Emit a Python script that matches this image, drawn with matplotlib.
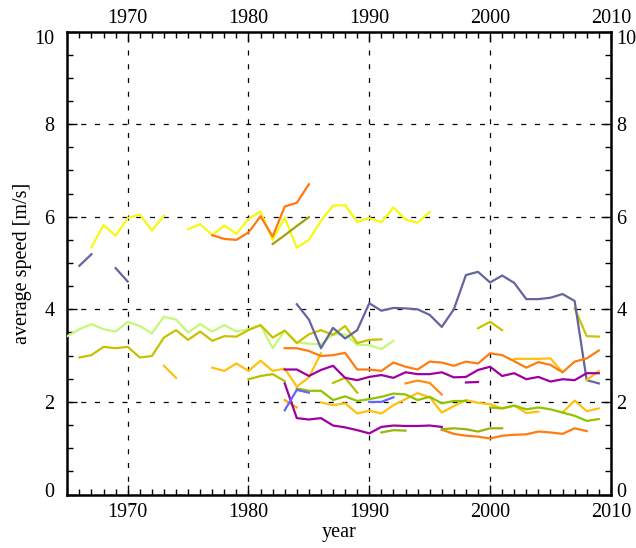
import matplotlib
matplotlib.use("Agg")
import matplotlib.pyplot as plt
from matplotlib.ticker import MultipleLocator
from matplotlib.transforms import Affine2D
import numpy as np

nan = np.nan

# each series: first year, then yearly values (nan = missing year)
yellow_start = 1967
yellow = [5.34, 5.82, 5.59, 5.97, 6.05, 5.70, 6.02, nan, 5.73, 5.84, 5.60, 5.81,
          5.63, 5.95, 6.11, 5.50, 5.98, 5.33, 5.50, 5.91, 6.24, 6.25, 5.89, 5.97,
          5.88, 6.20, 5.94, 5.87, 6.10]

orange_top_start = 1977
orange_top = [5.60, 5.52, 5.50, 5.66, 6.01, 5.57, 6.22, 6.30, 6.70]

olive_top_start = 1982
olive_top = [5.41, 5.60, 5.80, 5.99]

slate_start = 1966
slate = [4.94, 5.19, nan, 4.89, 4.60] + [nan] * 13 + [
    4.11, 3.78, 3.16, 3.60, 3.37, 3.55, 4.13, 3.97, 4.03, 4.02, 4.00, 3.88,
    3.62, 4.00, 4.74, 4.81, 4.58, 4.73, 4.57, 4.22, 4.22, 4.25, 4.33, 4.18,
    2.47, 2.40]

light_green_start = 1965
light_green = [3.42, 3.57, 3.68, 3.57, 3.52, 3.73, 3.64, 3.48, 3.84, 3.78, 3.50,
               3.68, 3.52, 3.66, 3.52, 3.57, 3.66, 3.16, 3.54, 3.29, 3.26, 3.24,
               3.46, 3.46, 3.23, 3.23, 3.14, 3.32]

mustard_start = 1966
mustard = [2.96, 3.01, 3.19, 3.16, 3.19, 2.96, 2.99, 3.39, 3.55, 3.34, 3.52, 3.32,
           3.42, 3.41, 3.55, 3.66, 3.39, 3.54, 3.27, 3.46, 3.55, 3.45, 3.64, 3.27,
           3.34, 3.35]

mustard2_start = 1999
mustard2 = [3.59, 3.73, 3.55, nan, nan, nan, nan, nan, 4.02, 3.42, 3.41]

gold_start = 1973
gold = [2.78, 2.52, nan, nan, 2.74, 2.67, 2.83, 2.67, 2.89, 2.67, 2.72, 2.33,
        2.53, 3.05]

gold_low_start = 1986
gold_low = [1.99, 1.93, 1.97, 1.75, 1.81, 1.75, 1.93, 2.06, 2.19, 2.10, 1.77, 1.91,
            2.04, 1.98, 1.95, 1.86, 1.92, 1.76, 1.79, nan, 1.77, 2.03, 1.80, 1.86]

gold_up_start = 2002
gold_up = [2.93, 2.93, 2.93, 2.94, 2.64, nan, 2.47, 2.67]

amber_start = 1983
amber = [2.04, 1.88]

orange_mid_start = 1983
orange_mid = [3.16, 3.16, 3.10, 2.99, 3.01, 3.06, 2.70, 2.70, 2.67, 2.85, 2.76,
              2.70, 2.87, 2.85, 2.78, 2.87, 2.83, 3.05, 3.01, 2.88, 2.74, 2.86,
              2.80, 2.64, 2.87, 2.94, 3.11]

orange_short_start = 1993
orange_short = [2.40, 2.46, 2.41, 2.16]

orange_low_start = 1996
orange_low = [1.40, 1.31, 1.27, 1.25, 1.21, 1.27, 1.29, 1.30, 1.36, 1.34, 1.31,
              1.43, 1.37]

purple_up_start = 1983
purple_up = [2.70, 2.70, 2.56, 2.69, 2.78, 2.52, 2.47, 2.54, 2.58, 2.52, 2.64,
             2.60, 2.60, 2.64, 2.53, 2.54, 2.69, 2.76, 2.56, 2.62, 2.49, 2.54,
             2.44, 2.49, 2.47, 2.62, 2.62]

purple_short_start = 1998
purple_short = [2.42, 2.43]

purple_low_start = 1983
purple_low = [2.40, 1.65, 1.62, 1.65, 1.49, 1.45, 1.39, 1.32, 1.46, 1.49, 1.48,
              1.48, 1.49, 1.46]

green_start = 1984
green = [2.29, 2.24, 2.24, 2.04, 2.12, 2.02, 2.06, 2.11, 2.18, 2.16, 2.04, 2.11,
         1.97, 2.02, 2.02, nan, 1.88, 1.86, 1.92, 1.84, 1.88, 1.84, 1.77, 1.70,
         1.59, 1.63]

olive_low_start = 1991
olive_low = [1.34, 1.39, 1.38, nan, nan, 1.41, 1.43, 1.41, 1.36, 1.43, 1.43]

blue_start = 1983
blue = [1.82, 2.26, 2.20, nan, nan, nan, nan, 2.00, 2.00, 2.10]

olive_mid_start = 1980
olive_mid = [2.49, 2.56, 2.60, 2.45, nan, nan, nan, 2.41, 2.52, 2.20]

series = [
    (light_green_start, light_green, "#c4f878"),
    (mustard_start, mustard, "#c8c000"),
    (mustard2_start, mustard2, "#c8c400"),
    (slate_start, slate, "#6464a0"),
    (yellow_start, yellow, "#f8f810"),
    (orange_top_start, orange_top, "#ff7810"),
    (olive_top_start, olive_top, "#a0a010"),
    (gold_start, gold, "#ffc010"),
    (gold_low_start, gold_low, "#ffc010"),
    (gold_up_start, gold_up, "#ffc010"),
    (amber_start, amber, "#ffa818"),
    (orange_mid_start, orange_mid, "#ff7c10"),
    (orange_short_start, orange_short, "#ff8c18"),
    (orange_low_start, orange_low, "#ff7c10"),
    (olive_mid_start, olive_mid, "#b4c000"),
    (green_start, green, "#90c400"),
    (olive_low_start, olive_low, "#98b410"),
    (purple_up_start, purple_up, "#a000a0"),
    (purple_short_start, purple_short, "#a000a0"),
    (purple_low_start, purple_low, "#a000a0"),
    (blue_start, blue, "#6464ff"),
]

plt.rcParams["font.family"] = ["Liberation Serif", "DejaVu Serif"]
plt.rcParams["font.size"] = 14.5

fig = plt.figure(figsize=(6.36, 5.48), dpi=100)
ax = fig.add_axes([0.1058, 0.0976, 0.8547, 0.8449])

for start, values, color in series:
    years = np.arange(start, start + len(values))
    ax.plot(years, values, color=color, lw=1.6, zorder=3)

ax.set_xlim(1965, 2010)
ax.set_ylim(0, 10)
ax.xaxis.set_major_locator(MultipleLocator(10))
ax.xaxis.set_minor_locator(MultipleLocator(1))
ax.yaxis.set_major_locator(MultipleLocator(2))
ax.yaxis.set_minor_locator(MultipleLocator(0.5))
ax.tick_params(which="both", direction="in", top=True, right=True,
               labeltop=True, labelright=True, width=1.0)
ax.tick_params(which="major", length=7, pad=4)
ax.tick_params(which="minor", length=4)
for s in ax.spines.values():
    s.set_linewidth(1.8)

ax.grid(True, which="major", color="black", lw=0.9, ls=(0, (4, 7)), zorder=1)

# nudge labels the way the original plot places them
ylocs = ax.yaxis.get_majorticklocs()
for tick, loc in zip(ax.yaxis.get_major_ticks(len(ylocs)), ylocs):
    dy = 0
    if loc >= 10:
        dy = -5
    elif loc <= 0:
        dy = 5
    tick.label1.set_transform(tick.label1.get_transform() + Affine2D().translate(-7, dy))
    tick.label2.set_transform(tick.label2.get_transform() + Affine2D().translate(0, dy))
xlocs = ax.xaxis.get_majorticklocs()
for tick in ax.xaxis.get_major_ticks(len(xlocs)):
    tick.label1.set_transform(tick.label1.get_transform() + Affine2D().translate(0, -3))
    tick.label2.set_transform(tick.label2.get_transform() + Affine2D().translate(0, -2))

ax.set_xlabel("year", labelpad=1)
ax.set_ylabel("average speed [m/s]", labelpad=2)

fig.savefig("out.png", dpi=100)
